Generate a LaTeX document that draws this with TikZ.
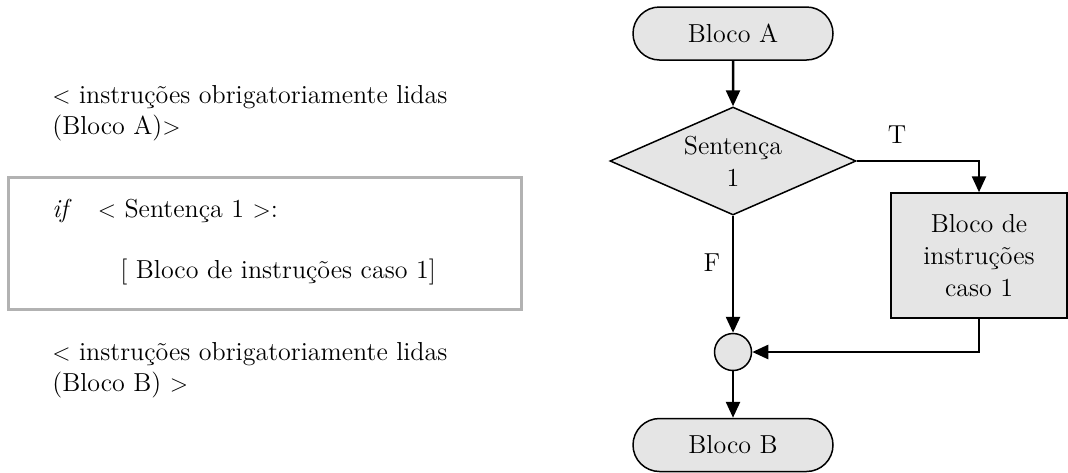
\documentclass[tikz,border=0pt]{standalone}
\usetikzlibrary{shapes.geometric,shapes.misc,arrows.meta}
\begin{document}
\begin{tikzpicture}[x=0.5pt,y=-0.5pt,
  font=\fontsize{13}{16}\selectfont,
  codeline/.style={anchor=base west,inner sep=0pt},
  codebox/.style={draw=black!30,line width=1.5pt,inner sep=0pt,
    minimum width=256.5pt,minimum height=66pt},
  terminal/.style={rounded rectangle,draw,fill=gray!20,line width=0.75pt,
    minimum width=100pt,minimum height=26.5pt,inner sep=0pt},
  decision/.style={diamond,draw,fill=gray!20,line width=0.75pt,
    minimum width=123pt,minimum height=54pt,inner sep=0pt},
  process/.style={rectangle,draw,fill=gray!20,line width=0.75pt,align=center,
    minimum width=88pt,minimum height=62.5pt,inner sep=0pt},
  junction/.style={circle,draw,fill=gray!20,line width=0.75pt,
    minimum size=18.5pt,inner sep=0pt},
  flow/.style={line width=1.25pt,-{Triangle[length=8pt,width=7pt]}},
  edgelabel/.style={inner sep=0pt}]
\useasboundingbox (0,0) rectangle (1068,472);

% pseudo-code on the left
\node[codeline] (a1) at (52,103) {$<$ instruções obrigatoriamente lidas};
\node[codeline] (a2) at (52,134) {(Bloco A)$>$};
\node[codebox] (cb) at (264.5,243) {};
\node[codeline] (c1) at (52,217) {\textit{if}\quad$<$ Sentença 1 $>$:};
\node[codeline] (c2) at (120,278) {[ Bloco de instruções caso 1]};
\node[codeline] (b1) at (52,360) {$<$ instruções obrigatoriamente lidas};
\node[codeline] (b2) at (52,391) {(Bloco B) $>$};

% flowchart on the right
\node[terminal] (ta) at (733,33.5) {Bloco A};
\node[decision,label={[align=center,inner sep=0pt]center:Sentença\\1}] (dc) at (733,161) {};
\node[process] (pb) at (979,255.5) {Bloco de\\instruções\\caso 1};
\node[junction] (jn) at (733,352) {};
\node[terminal] (tb) at (733,445) {Bloco B};

\draw[flow] (ta) -- (dc);
\draw[flow] (dc.east) -| (pb.north);
\draw[flow] (dc.south) -- (jn.north);
\draw[flow] (pb.south) |- (jn.east);
\draw[flow] (jn.south) -- (tb.north);

\node[edgelabel] (lt) at (897,135) {T};
\node[edgelabel] (lf) at (712,263) {F};
\end{tikzpicture}
\end{document}
